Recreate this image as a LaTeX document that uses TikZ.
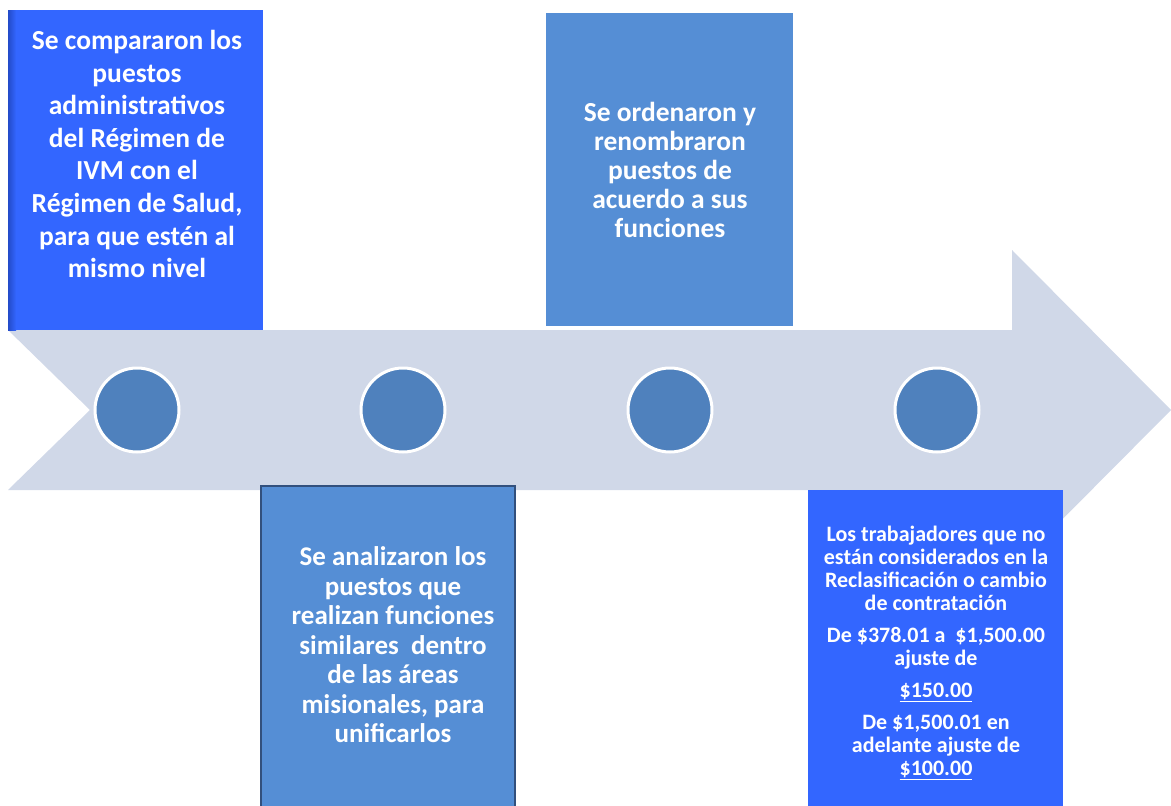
\documentclass[tikz,border=0pt]{standalone}
\usepackage{fontspec}
\setmainfont{Carlito}
\definecolor{arrowgray}{RGB}{208,216,232}
\definecolor{brightblue}{RGB}{51,102,255}
\definecolor{brightedge}{RGB}{35,75,200}
\definecolor{steelblue}{RGB}{85,142,213}
\definecolor{circleblue}{RGB}{79,129,189}
\definecolor{darkedge}{RGB}{50,80,125}
\tikzset{
  stepdot/.style={circle, minimum size=84pt, inner sep=0pt, fill=circleblue, draw=white, line width=3pt},
  boxbright/.style={rectangle, inner sep=0pt, fill=brightblue},
  boxsteel/.style={rectangle, inner sep=0pt, fill=steelblue},
  boxtext/.style={text=white, align=center, inner sep=0pt, font=\bfseries}
}
\begin{document}
\begin{tikzpicture}[x=1pt,y=-1pt]
\useasboundingbox (0,0) rectangle (1171,806);
\fill[white] (0,0) rectangle (1171,806);
% timeline arrow
\fill[arrowgray] (8,330) -- (1012,330) -- (1012,250) -- (1171,410) -- (1012,570) -- (1012,490) -- (8,490) -- (90,410) -- cycle;
% boxes
\node[boxbright, minimum width=255pt, minimum height=320pt] (b1) at (135.5,170) {};
\shade[left color=brightedge, right color=brightblue] (8,10) rectangle (16,330);
\node[boxsteel, minimum width=247pt, minimum height=313pt] (b2) at (669.5,169.5) {};
\node[boxsteel, draw=darkedge, line width=1.5pt, minimum width=254pt, minimum height=324pt] (b3) at (388,648) {};
\node[boxbright, minimum width=255pt, minimum height=316pt] (b4) at (935.5,648) {};
% circles
\node[stepdot] (c1) at (137,410) {};
\node[stepdot] (c2) at (403,410) {};
\node[stepdot] (c3) at (670,410) {};
\node[stepdot] (c4) at (937,410) {};
% texts
\node[boxtext, font=\bfseries\fontsize{27.5}{32.6}\selectfont] (t1) at (137,154)
  {Se compararon los\\puestos\\administrativos\\del Régimen de\\IVM con el\\Régimen de Salud,\\para que estén al\\mismo nivel};
\node[boxtext, font=\bfseries\fontsize{27.5}{29}\selectfont] (t2) at (670,170)
  {Se ordenaron y\\renombraron\\puestos de\\acuerdo a sus\\funciones};
\node[boxtext, font=\bfseries\fontsize{27}{29.5}\selectfont] (t3) at (393,645)
  {Se analizaron los\\puestos que\\realizan funciones\\similares\ \ dentro\\de las áreas\\misionales, para\\unificarlos};
\node[boxtext, font=\bfseries\fontsize{22}{23}\selectfont] (t4) at (936,653)
  {Los trabajadores que no\\están considerados en la\\Reclasificación o cambio\\de contratación\\[9pt]
   De \$378.01 a\ \ \$1,500.00\\ajuste de\\[9pt]
   \underline{\$150.00}\\[9pt]
   De \$1,500.01 en\\adelante ajuste de\\\underline{\$100.00}};
\end{tikzpicture}
\end{document}
